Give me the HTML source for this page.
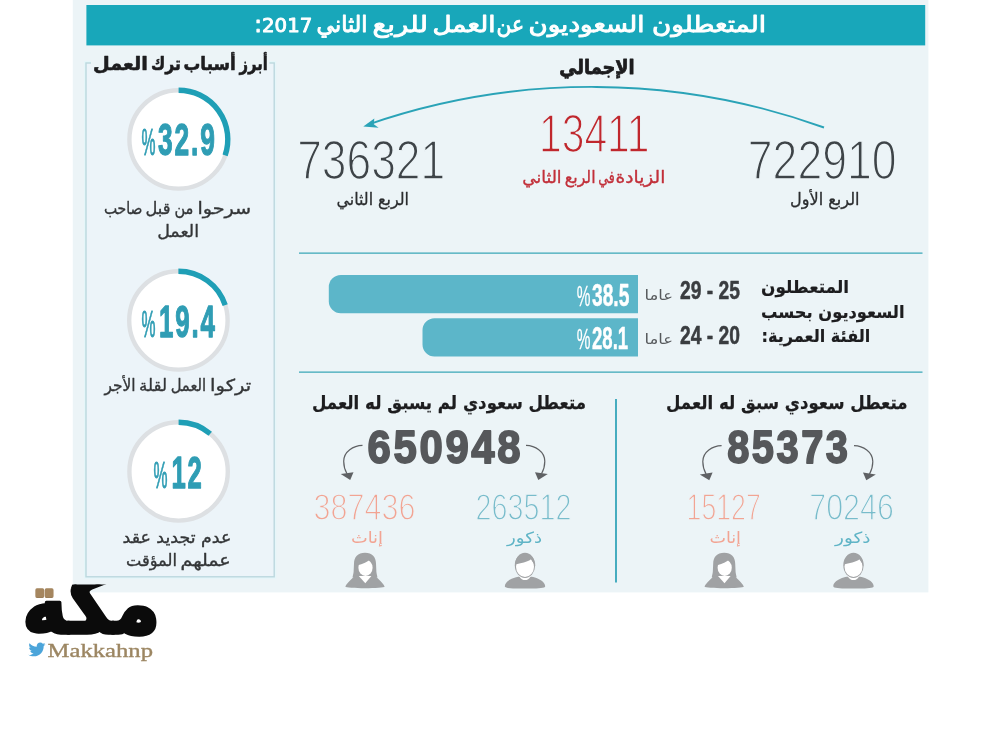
<!DOCTYPE html>
<html lang="ar"><head><meta charset="utf-8"><title>المتعطلون السعوديون عن العمل للربع الثاني 2017</title>
<style>html,body{margin:0;padding:0;background:#fff}svg{display:block}</style></head><body>
<svg width="1000" height="750" viewBox="0 0 1000 750">
<rect width="1000" height="750" fill="#fff"/>
<rect x="72.8" y="0" width="855.6" height="592.4" fill="#ecf4f7"/>
<rect x="86.4" y="5" width="838.8" height="40.4" fill="#18a7ba"/>
<text font-family="'DejaVu Sans','Liberation Sans',sans-serif" font-size="22.5" fill="#fff" textLength="114.0" lengthAdjust="spacingAndGlyphs" stroke="#fff" stroke-width="0.9" stroke-linejoin="round" direction="rtl" x="766" y="32">المتعطلون</text>
<text font-family="'DejaVu Sans','Liberation Sans',sans-serif" font-size="22.5" fill="#fff" textLength="116.0" lengthAdjust="spacingAndGlyphs" stroke="#fff" stroke-width="0.9" stroke-linejoin="round" direction="rtl" x="644.5" y="32">السعوديون</text>
<text font-family="'DejaVu Sans','Liberation Sans',sans-serif" font-size="22.5" fill="#fff" textLength="27.5" lengthAdjust="spacingAndGlyphs" stroke="#fff" stroke-width="0.9" stroke-linejoin="round" direction="rtl" x="524" y="32">عن</text>
<text font-family="'DejaVu Sans','Liberation Sans',sans-serif" font-size="22.5" fill="#fff" textLength="63.0" lengthAdjust="spacingAndGlyphs" stroke="#fff" stroke-width="0.9" stroke-linejoin="round" direction="rtl" x="495.5" y="32">العمل</text>
<text font-family="'DejaVu Sans','Liberation Sans',sans-serif" font-size="22.5" fill="#fff" textLength="55.5" lengthAdjust="spacingAndGlyphs" stroke="#fff" stroke-width="0.9" stroke-linejoin="round" direction="rtl" x="428" y="32">للربع</text>
<text font-family="'DejaVu Sans','Liberation Sans',sans-serif" font-size="22.5" fill="#fff" textLength="51.0" lengthAdjust="spacingAndGlyphs" stroke="#fff" stroke-width="0.9" stroke-linejoin="round" direction="rtl" x="367.5" y="32">الثاني</text>
<text font-family="'DejaVu Sans','Liberation Sans',sans-serif" font-size="22.5" fill="#fff" textLength="58.0" lengthAdjust="spacingAndGlyphs" stroke="#fff" stroke-width="0.9" stroke-linejoin="round" direction="rtl" x="312.3" y="32"><tspan font-size="19.5">2017</tspan>:</text>
<rect x="86" y="63" width="188.2" height="513.8" fill="none" stroke="#e5f6f9" stroke-width="4"/>
<rect x="86" y="63" width="188.2" height="513.8" fill="#ecf4f9" stroke="#bcd8de" stroke-width="1.4"/>
<rect x="91" y="58" width="178.5" height="10" fill="#ecf4f7"/>
<text font-family="'DejaVu Sans','Liberation Sans',sans-serif" font-size="18.5" fill="#1d1d1f" textLength="28.3" lengthAdjust="spacingAndGlyphs" font-weight="bold" stroke="#1d1d1f" stroke-width="0.6" stroke-linejoin="round" direction="rtl" x="267.8" y="70.3">أبرز</text>
<text font-family="'DejaVu Sans','Liberation Sans',sans-serif" font-size="18.5" fill="#1d1d1f" textLength="52.3" lengthAdjust="spacingAndGlyphs" font-weight="bold" stroke="#1d1d1f" stroke-width="0.6" stroke-linejoin="round" direction="rtl" x="235.8" y="70.3">أسباب</text>
<text font-family="'DejaVu Sans','Liberation Sans',sans-serif" font-size="18.5" fill="#1d1d1f" textLength="29.8" lengthAdjust="spacingAndGlyphs" font-weight="bold" stroke="#1d1d1f" stroke-width="0.6" stroke-linejoin="round" direction="rtl" x="180.8" y="70.3">ترك</text>
<text font-family="'DejaVu Sans','Liberation Sans',sans-serif" font-size="18.5" fill="#1d1d1f" textLength="54.8" lengthAdjust="spacingAndGlyphs" font-weight="bold" stroke="#1d1d1f" stroke-width="0.6" stroke-linejoin="round" direction="rtl" x="147.8" y="70.3">العمل</text>
<circle cx="178.6" cy="139.4" r="49.2" fill="#fff" stroke="#dde0e3" stroke-width="4.4"/>
<path d="M178.6 90.2 A49.2 49.2 0 0 1 225.12 155.42" fill="none" stroke="#1f9fb6" stroke-width="5.4"/>
<text font-family="'Liberation Sans','DejaVu Sans',sans-serif" font-size="45" fill="#2f9db4" textLength="58.7" lengthAdjust="spacingAndGlyphs" font-weight="bold" stroke="#2f9db4" stroke-width="1.3" stroke-linejoin="round" x="158" y="154.8" letter-spacing="3.2">32.9</text>
<text font-family="'Liberation Sans','DejaVu Sans',sans-serif" font-size="37.5" fill="#2f9db4" textLength="14.0" lengthAdjust="spacingAndGlyphs" stroke="#2f9db4" stroke-width="0.95" stroke-linejoin="round" x="141.5" y="154.8">%</text>
<circle cx="178.4" cy="320.4" r="49.2" fill="#fff" stroke="#dde0e3" stroke-width="4.4"/>
<path d="M178.4 271.2 A49.2 49.2 0 0 1 225.19 305.20" fill="none" stroke="#1f9fb6" stroke-width="5.4"/>
<text font-family="'Liberation Sans','DejaVu Sans',sans-serif" font-size="45" fill="#2f9db4" textLength="57.7" lengthAdjust="spacingAndGlyphs" font-weight="bold" stroke="#2f9db4" stroke-width="1.3" stroke-linejoin="round" x="159" y="336.7" letter-spacing="3.2">19.4</text>
<text font-family="'Liberation Sans','DejaVu Sans',sans-serif" font-size="37.5" fill="#2f9db4" textLength="14.0" lengthAdjust="spacingAndGlyphs" stroke="#2f9db4" stroke-width="0.95" stroke-linejoin="round" x="141.5" y="336.7">%</text>
<circle cx="178.6" cy="471.4" r="49.2" fill="#fff" stroke="#dde0e3" stroke-width="4.4"/>
<path d="M178.6 422.2 A49.2 49.2 0 0 1 210.23 433.71" fill="none" stroke="#1f9fb6" stroke-width="5.4"/>
<text font-family="'Liberation Sans','DejaVu Sans',sans-serif" font-size="45" fill="#2f9db4" textLength="32.2" lengthAdjust="spacingAndGlyphs" font-weight="bold" stroke="#2f9db4" stroke-width="1.3" stroke-linejoin="round" x="171.5" y="487.7" letter-spacing="3.2">12</text>
<text font-family="'Liberation Sans','DejaVu Sans',sans-serif" font-size="37.5" fill="#2f9db4" textLength="14.0" lengthAdjust="spacingAndGlyphs" stroke="#2f9db4" stroke-width="0.95" stroke-linejoin="round" x="153.5" y="487.7">%</text>
<text font-family="'DejaVu Sans','Liberation Sans',sans-serif" font-size="16.5" fill="#333537" textLength="53.8" lengthAdjust="spacingAndGlyphs" stroke="#333537" stroke-width="0.35" stroke-linejoin="round" direction="rtl" x="251.2" y="214.3">سرحوا</text>
<text font-family="'DejaVu Sans','Liberation Sans',sans-serif" font-size="16.5" fill="#333537" textLength="18.9" lengthAdjust="spacingAndGlyphs" stroke="#333537" stroke-width="0.35" stroke-linejoin="round" direction="rtl" x="193.4" y="214.3">من</text>
<text font-family="'DejaVu Sans','Liberation Sans',sans-serif" font-size="16.5" fill="#333537" textLength="24.9" lengthAdjust="spacingAndGlyphs" stroke="#333537" stroke-width="0.35" stroke-linejoin="round" direction="rtl" x="170.4" y="214.3">قبل</text>
<text font-family="'DejaVu Sans','Liberation Sans',sans-serif" font-size="16.5" fill="#333537" textLength="38.5" lengthAdjust="spacingAndGlyphs" stroke="#333537" stroke-width="0.35" stroke-linejoin="round" direction="rtl" x="142.4" y="214.3">صاحب</text>
<text font-family="'DejaVu Sans','Liberation Sans',sans-serif" font-size="16.5" fill="#333537" textLength="41.8" lengthAdjust="spacingAndGlyphs" stroke="#333537" stroke-width="0.35" stroke-linejoin="round" direction="rtl" x="199" y="237.2">العمل</text>
<text font-family="'DejaVu Sans','Liberation Sans',sans-serif" font-size="16.5" fill="#333537" textLength="41.1" lengthAdjust="spacingAndGlyphs" stroke="#333537" stroke-width="0.35" stroke-linejoin="round" direction="rtl" x="251.2" y="390.6">تركوا</text>
<text font-family="'DejaVu Sans','Liberation Sans',sans-serif" font-size="16.5" fill="#333537" textLength="35.4" lengthAdjust="spacingAndGlyphs" stroke="#333537" stroke-width="0.35" stroke-linejoin="round" direction="rtl" x="206.1" y="390.6">العمل</text>
<text font-family="'DejaVu Sans','Liberation Sans',sans-serif" font-size="16.5" fill="#333537" textLength="27.9" lengthAdjust="spacingAndGlyphs" stroke="#333537" stroke-width="0.35" stroke-linejoin="round" direction="rtl" x="167" y="390.6">لقلة</text>
<text font-family="'DejaVu Sans','Liberation Sans',sans-serif" font-size="16.5" fill="#333537" textLength="31.2" lengthAdjust="spacingAndGlyphs" stroke="#333537" stroke-width="0.35" stroke-linejoin="round" direction="rtl" x="135.6" y="390.6">الأجر</text>
<text font-family="'DejaVu Sans','Liberation Sans',sans-serif" font-size="16.5" fill="#333537" textLength="108.8" lengthAdjust="spacingAndGlyphs" stroke="#333537" stroke-width="0.35" stroke-linejoin="round" direction="rtl" x="231.3" y="543.4">عدم تجديد عقد</text>
<text font-family="'DejaVu Sans','Liberation Sans',sans-serif" font-size="16.5" fill="#333537" textLength="50.4" lengthAdjust="spacingAndGlyphs" stroke="#333537" stroke-width="0.35" stroke-linejoin="round" direction="rtl" x="230.8" y="565.5">عملهم</text>
<text font-family="'DejaVu Sans','Liberation Sans',sans-serif" font-size="16.5" fill="#333537" textLength="50.9" lengthAdjust="spacingAndGlyphs" stroke="#333537" stroke-width="0.35" stroke-linejoin="round" direction="rtl" x="176.9" y="565.5">المؤقت</text>
<text font-family="'DejaVu Sans','Liberation Sans',sans-serif" font-size="19.5" fill="#1d1d1f" textLength="75.4" lengthAdjust="spacingAndGlyphs" font-weight="bold" stroke="#1d1d1f" stroke-width="0.8" stroke-linejoin="round" direction="rtl" x="634.7" y="73.5">الإجمالي</text>
<path d="M824 127.5A684 684 0 0 0 368 124.6" fill="none" stroke="#2aa3b7" stroke-width="1.9"/>
<path d="M363.3 126.6L374.3 118.5L373.8 124.2L378.6 127.8Z" fill="#2aa3b7"/>
<text font-family="'Liberation Sans','DejaVu Sans',sans-serif" font-size="56" fill="#3e4448" textLength="148.0" lengthAdjust="spacingAndGlyphs" stroke="#ecf4f7" stroke-width="1.6" stroke-linejoin="round" x="297.2" y="178.5">736321</text>
<text font-family="'Liberation Sans','DejaVu Sans',sans-serif" font-size="54.3" fill="#c0272d" textLength="110.5" lengthAdjust="spacingAndGlyphs" stroke="#ecf4f7" stroke-width="1.6" stroke-linejoin="round" x="539" y="151.5">13411</text>
<text font-family="'Liberation Sans','DejaVu Sans',sans-serif" font-size="56" fill="#3e4448" textLength="148.8" lengthAdjust="spacingAndGlyphs" stroke="#ecf4f7" stroke-width="1.6" stroke-linejoin="round" x="747.8" y="178.5">722910</text>
<text font-family="'DejaVu Sans','Liberation Sans',sans-serif" font-size="17" fill="#2b2d2f" textLength="72.5" lengthAdjust="spacingAndGlyphs" stroke="#2b2d2f" stroke-width="0.3" stroke-linejoin="round" direction="rtl" x="409" y="204.5">الربع الثاني</text>
<text font-family="'DejaVu Sans','Liberation Sans',sans-serif" font-size="17.2" fill="#c2303a" textLength="49.8" lengthAdjust="spacingAndGlyphs" stroke="#c2303a" stroke-width="0.35" stroke-linejoin="round" direction="rtl" x="665.4" y="183.2">الزيادة</text>
<text font-family="'DejaVu Sans','Liberation Sans',sans-serif" font-size="17.2" fill="#c2303a" textLength="16.6" lengthAdjust="spacingAndGlyphs" stroke="#c2303a" stroke-width="0.35" stroke-linejoin="round" direction="rtl" x="614.8" y="183.2">في</text>
<text font-family="'DejaVu Sans','Liberation Sans',sans-serif" font-size="17.2" fill="#c2303a" textLength="30.8" lengthAdjust="spacingAndGlyphs" stroke="#c2303a" stroke-width="0.35" stroke-linejoin="round" direction="rtl" x="595.6" y="183.2">الربع</text>
<text font-family="'DejaVu Sans','Liberation Sans',sans-serif" font-size="17.2" fill="#c2303a" textLength="39.3" lengthAdjust="spacingAndGlyphs" stroke="#c2303a" stroke-width="0.35" stroke-linejoin="round" direction="rtl" x="561.6" y="183.2">الثاني</text>
<text font-family="'DejaVu Sans','Liberation Sans',sans-serif" font-size="17" fill="#2b2d2f" textLength="69.6" lengthAdjust="spacingAndGlyphs" stroke="#2b2d2f" stroke-width="0.3" stroke-linejoin="round" direction="rtl" x="859.6" y="204.5">الربع الأول</text>
<path d="M299 253.2H922.5M299 372.2H922.5" stroke="#3aa6b8" stroke-width="1.3" fill="none"/>
<path d="M340.8 275H638V313.3H340.8A12 12 0 0 1 328.8 301.3V287A12 12 0 0 1 340.8 275Z" fill="#5cb6c9"/>
<path d="M434.5 318.2H638V356.4H434.5A12 12 0 0 1 422.5 344.4V330.2A12 12 0 0 1 434.5 318.2Z" fill="#5cb6c9"/>
<text font-family="'Liberation Sans','DejaVu Sans',sans-serif" font-size="31" fill="#fff" textLength="37.3" lengthAdjust="spacingAndGlyphs" font-weight="bold" stroke="#fff" stroke-width="0.5" stroke-linejoin="round" x="592" y="305.6">38.5</text>
<text font-family="'Liberation Sans','DejaVu Sans',sans-serif" font-size="29" fill="#fff" textLength="13.7" lengthAdjust="spacingAndGlyphs" stroke="#fff" stroke-width="0.3" stroke-linejoin="round" x="576.8" y="305.6">%</text>
<text font-family="'Liberation Sans','DejaVu Sans',sans-serif" font-size="31" fill="#fff" textLength="36.2" lengthAdjust="spacingAndGlyphs" font-weight="bold" stroke="#fff" stroke-width="0.5" stroke-linejoin="round" x="592" y="349.2">28.1</text>
<text font-family="'Liberation Sans','DejaVu Sans',sans-serif" font-size="29" fill="#fff" textLength="13.7" lengthAdjust="spacingAndGlyphs" stroke="#fff" stroke-width="0.3" stroke-linejoin="round" x="576.8" y="349.2">%</text>
<text font-family="'Liberation Sans','DejaVu Sans',sans-serif" font-size="25" fill="#3a3d40" textLength="60.0" lengthAdjust="spacingAndGlyphs" font-weight="bold" stroke="#3a3d40" stroke-width="0.5" stroke-linejoin="round" direction="rtl" x="740" y="299.3">25 - 29</text>
<text font-family="'Liberation Sans','DejaVu Sans',sans-serif" font-size="25" fill="#3a3d40" textLength="60.0" lengthAdjust="spacingAndGlyphs" font-weight="bold" stroke="#3a3d40" stroke-width="0.5" stroke-linejoin="round" direction="rtl" x="740" y="343.7">20 - 24</text>
<text font-family="'DejaVu Sans','Liberation Sans',sans-serif" font-size="14" fill="#55585b" textLength="28.5" lengthAdjust="spacingAndGlyphs" direction="rtl" x="673" y="300">عاما</text>
<text font-family="'DejaVu Sans','Liberation Sans',sans-serif" font-size="14" fill="#55585b" textLength="28.5" lengthAdjust="spacingAndGlyphs" direction="rtl" x="673" y="344">عاما</text>
<text font-family="'DejaVu Sans','Liberation Sans',sans-serif" font-size="17.5" fill="#1d1d1f" textLength="88.0" lengthAdjust="spacingAndGlyphs" font-weight="bold" stroke="#1d1d1f" stroke-width="0.2" stroke-linejoin="round" direction="rtl" x="849" y="293.3">المتعطلون</text>
<text font-family="'DejaVu Sans','Liberation Sans',sans-serif" font-size="17.5" fill="#1d1d1f" textLength="143.5" lengthAdjust="spacingAndGlyphs" font-weight="bold" stroke="#1d1d1f" stroke-width="0.2" stroke-linejoin="round" direction="rtl" x="904.5" y="318">السعوديون بحسب</text>
<text font-family="'DejaVu Sans','Liberation Sans',sans-serif" font-size="17.5" fill="#1d1d1f" textLength="108.8" lengthAdjust="spacingAndGlyphs" font-weight="bold" stroke="#1d1d1f" stroke-width="0.2" stroke-linejoin="round" direction="rtl" x="870.3" y="342">الفئة العمرية:</text>
<path d="M616 399V582.5" stroke="#35a5b9" stroke-width="1.8" fill="none"/>
<text font-family="'DejaVu Sans','Liberation Sans',sans-serif" font-size="18.5" fill="#1d1d1f" textLength="274.0" lengthAdjust="spacingAndGlyphs" font-weight="bold" stroke="#1d1d1f" stroke-width="0.25" stroke-linejoin="round" direction="rtl" x="586" y="409.2">متعطل سعودي لم يسبق له العمل</text>
<text font-family="'DejaVu Sans','Liberation Sans',sans-serif" font-size="18.5" fill="#1d1d1f" textLength="241.5" lengthAdjust="spacingAndGlyphs" font-weight="bold" stroke="#1d1d1f" stroke-width="0.25" stroke-linejoin="round" direction="rtl" x="907.5" y="409.2">متعطل سعودي سبق له العمل</text>
<text font-family="'Liberation Sans','DejaVu Sans',sans-serif" font-size="47" fill="#56585b" textLength="155.8" lengthAdjust="spacingAndGlyphs" font-weight="bold" stroke="#56585b" stroke-width="1.8" stroke-linejoin="round" x="367.5" y="463.4" letter-spacing="3">650948</text>
<text font-family="'Liberation Sans','DejaVu Sans',sans-serif" font-size="47" fill="#56585b" textLength="123.3" lengthAdjust="spacingAndGlyphs" font-weight="bold" stroke="#56585b" stroke-width="1.8" stroke-linejoin="round" x="727.2" y="463.4" letter-spacing="3">85373</text>
<text font-family="'Liberation Sans','DejaVu Sans',sans-serif" font-size="36" fill="#f2a493" textLength="101.8" lengthAdjust="spacingAndGlyphs" stroke="#ecf4f7" stroke-width="1.35" stroke-linejoin="round" x="313.6" y="519.8">387436</text>
<text font-family="'Liberation Sans','DejaVu Sans',sans-serif" font-size="36" fill="#78bccb" textLength="95.8" lengthAdjust="spacingAndGlyphs" stroke="#ecf4f7" stroke-width="1.35" stroke-linejoin="round" x="475.6" y="519.8">263512</text>
<text font-family="'Liberation Sans','DejaVu Sans',sans-serif" font-size="36" fill="#f2a493" textLength="74.2" lengthAdjust="spacingAndGlyphs" stroke="#ecf4f7" stroke-width="1.35" stroke-linejoin="round" x="686.6" y="519.8">15127</text>
<text font-family="'Liberation Sans','DejaVu Sans',sans-serif" font-size="36" fill="#78bccb" textLength="84.7" lengthAdjust="spacingAndGlyphs" stroke="#ecf4f7" stroke-width="1.35" stroke-linejoin="round" x="809.2" y="519.8">70246</text>
<text font-family="'DejaVu Sans','Liberation Sans',sans-serif" font-size="16" fill="#f2a493" textLength="32.0" lengthAdjust="spacingAndGlyphs" direction="rtl" x="383" y="542.8">إناث</text>
<text font-family="'DejaVu Sans','Liberation Sans',sans-serif" font-size="15.5" fill="#5fb4c6" textLength="35.0" lengthAdjust="spacingAndGlyphs" direction="rtl" x="542" y="543">ذكور</text>
<text font-family="'DejaVu Sans','Liberation Sans',sans-serif" font-size="16" fill="#f2a493" textLength="31.6" lengthAdjust="spacingAndGlyphs" direction="rtl" x="741" y="542.8">إناث</text>
<text font-family="'DejaVu Sans','Liberation Sans',sans-serif" font-size="15.5" fill="#5fb4c6" textLength="35.5" lengthAdjust="spacingAndGlyphs" direction="rtl" x="870.5" y="543">ذكور</text>
<path d="M362.5 445.3C353.5 445.6 343.7 451.3 343.7 461.3C343.7 466.3 345.0 470.3 347.0 473.8" fill="none" stroke="#5f6164" stroke-width="1.2"/>
<path d="M340.7 474.1L353.5 472.2L350.2 479.9Z" fill="#5f6164"/>
<path d="M526 445.3C535.0 445.6 544.8 451.3 544.8 461.3C544.8 466.3 543.5 470.3 541.5 473.8" fill="none" stroke="#5f6164" stroke-width="1.2"/>
<path d="M547.8 474.1L535.0 472.2L538.3 479.9Z" fill="#5f6164"/>
<path d="M721.6 445.6C712.6 445.9 702.8 451.6 702.8 461.6C702.8 466.6 704.1 470.6 706.1 474.1" fill="none" stroke="#5f6164" stroke-width="1.2"/>
<path d="M699.8 474.4L712.6 472.5L709.3 480.2Z" fill="#5f6164"/>
<path d="M854 445.6C863.0 445.9 872.8 451.6 872.8 461.6C872.8 466.6 871.5 470.6 869.5 474.1" fill="none" stroke="#5f6164" stroke-width="1.2"/>
<path d="M875.8 474.4L863.0 472.5L866.3 480.2Z" fill="#5f6164"/>
<g transform="translate(365 552.4)"><path d="M-19.6 34.3C-19.6 32.500 -14 27 -10.500 23.500L10.500 23.500C14 27 19.6 32.500 19.6 34.3C19.6 36.2 -19.6 36.2 -19.6 34.3Z" fill="#a0a2a4"/><path d="M0 0.300C7.200 0.300 11 4.600 11 11.200L11.400 19.500C11.700 22 12.400 23.600 12.400 25L-12.400 25C-12.400 23.600 -11.700 22 -11.400 19.500L-11 11.200C-11 4.600 -7.200 0.300 0 0.300Z" fill="#a0a2a4"/><path d="M-6.200 23.700L6.400 23.700L0.300 30.800Z" fill="#fff"/><ellipse cx="0.500" cy="15.300" rx="7.100" ry="8.200" fill="#fff"/><path d="M-7.200 13C-3 12 3.500 9.500 6 6.200C6.800 8.500 7.300 10 8 12.500C8 6 4 4.500 0 4.500C-4 4.500 -8 6 -7.200 13Z" fill="#a0a2a4"/></g>
<g transform="translate(525 552.4)"><path d="M-20.200 33.800C-20.200 27.500 -8 23.600 0 23.600C8 23.600 20.200 27.500 20.200 33.800C20.200 36.300 10 36 0 36C-10 36 -20.200 36.300 -20.200 33.800Z" fill="#a0a2a4"/><ellipse cx="0" cy="14.500" rx="8.200" ry="13.200" fill="#fff"/><ellipse cx="0" cy="12.900" rx="10.200" ry="12.600" fill="#a0a2a4"/><ellipse cx="0" cy="14.300" rx="9" ry="10.200" fill="#fff"/><path d="M-9.500 12C-5 10.800 3 9.500 6 6.800C7 8.500 8.500 10.500 9.600 12.500C10 4.500 5 1.500 0 1.500C-5 1.500 -10 4.500 -9.500 12Z" fill="#a0a2a4"/></g>
<g transform="translate(724.2 552.4)"><path d="M-19.6 34.3C-19.6 32.500 -14 27 -10.500 23.500L10.500 23.500C14 27 19.6 32.500 19.6 34.3C19.6 36.2 -19.6 36.2 -19.6 34.3Z" fill="#a0a2a4"/><path d="M0 0.300C7.200 0.300 11 4.600 11 11.200L11.400 19.500C11.700 22 12.400 23.600 12.400 25L-12.400 25C-12.400 23.600 -11.700 22 -11.400 19.500L-11 11.200C-11 4.600 -7.200 0.300 0 0.300Z" fill="#a0a2a4"/><path d="M-6.200 23.700L6.400 23.700L0.300 30.800Z" fill="#fff"/><ellipse cx="0.500" cy="15.300" rx="7.100" ry="8.200" fill="#fff"/><path d="M-7.200 13C-3 12 3.500 9.500 6 6.200C6.800 8.500 7.300 10 8 12.500C8 6 4 4.500 0 4.500C-4 4.500 -8 6 -7.200 13Z" fill="#a0a2a4"/></g>
<g transform="translate(853.5 552.4)"><path d="M-20.200 33.800C-20.200 27.500 -8 23.600 0 23.600C8 23.600 20.200 27.500 20.200 33.800C20.200 36.300 10 36 0 36C-10 36 -20.200 36.300 -20.200 33.800Z" fill="#a0a2a4"/><ellipse cx="0" cy="14.500" rx="8.200" ry="13.200" fill="#fff"/><ellipse cx="0" cy="12.900" rx="10.200" ry="12.600" fill="#a0a2a4"/><ellipse cx="0" cy="14.300" rx="9" ry="10.200" fill="#fff"/><path d="M-9.500 12C-5 10.800 3 9.500 6 6.800C7 8.500 8.500 10.500 9.600 12.500C10 4.500 5 1.500 0 1.500C-5 1.500 -10 4.500 -9.500 12Z" fill="#a0a2a4"/></g>
<defs><pattern id="lg" patternUnits="userSpaceOnUse" x="0" y="0" width="1000" height="750"><rect width="1000" height="750" fill="#0b0b0b"/><rect x="29" y="590" width="28.5" height="19.3" fill="#a5865f"/></pattern><clipPath id="lc"><rect x="0" y="584.6" width="400" height="100"/></clipPath></defs>
<g clip-path="url(#lc)"><text x="160.5" y="634" direction="rtl" font-family="'DejaVu Sans',sans-serif" font-weight="bold" font-size="60" textLength="138.5" lengthAdjust="spacingAndGlyphs" fill="url(#lg)" stroke="url(#lg)" stroke-width="2.5" stroke-linejoin="round" transform="translate(0 636.5) scale(1 1.4) translate(0 -636.5)">مكة</text></g>
<path transform="translate(28.4 642.6) scale(0.71)" d="M24 2.300c-.9.400-1.800.700-2.800.800 1-.6 1.800-1.600 2.200-2.700-1 .6-2 1-3.100 1.200C19.400.600 18.100 0 16.600 0c-2.700 0-4.900 2.200-4.900 4.900 0 .4 0 .8.100 1.100C7.700 5.800 4.100 3.800 1.700.800 1.200 1.600 1 2.400 1 3.300c0 1.700.9 3.200 2.200 4.100-.8 0-1.600-.2-2.200-.6v.1c0 2.400 1.700 4.400 3.900 4.800-.4.100-.8.200-1.300.2-.3 0-.6 0-.9-.1.600 2 2.400 3.400 4.600 3.400-1.700 1.300-3.800 2.100-6.100 2.100-.4 0-.8 0-1.200-.1 2.200 1.400 4.800 2.200 7.500 2.200 9.100 0 14-7.500 14-14v-.6c1-.7 1.800-1.600 2.500-2.500z" fill="#4ca5da"/>
<text font-family="'Liberation Serif','DejaVu Serif',serif" font-size="19.3" fill="#9c8662" textLength="105.4" lengthAdjust="spacingAndGlyphs" stroke="#9c8662" stroke-width="0.35" stroke-linejoin="round" x="47.6" y="657">Makkahnp</text>
</svg></body></html>
